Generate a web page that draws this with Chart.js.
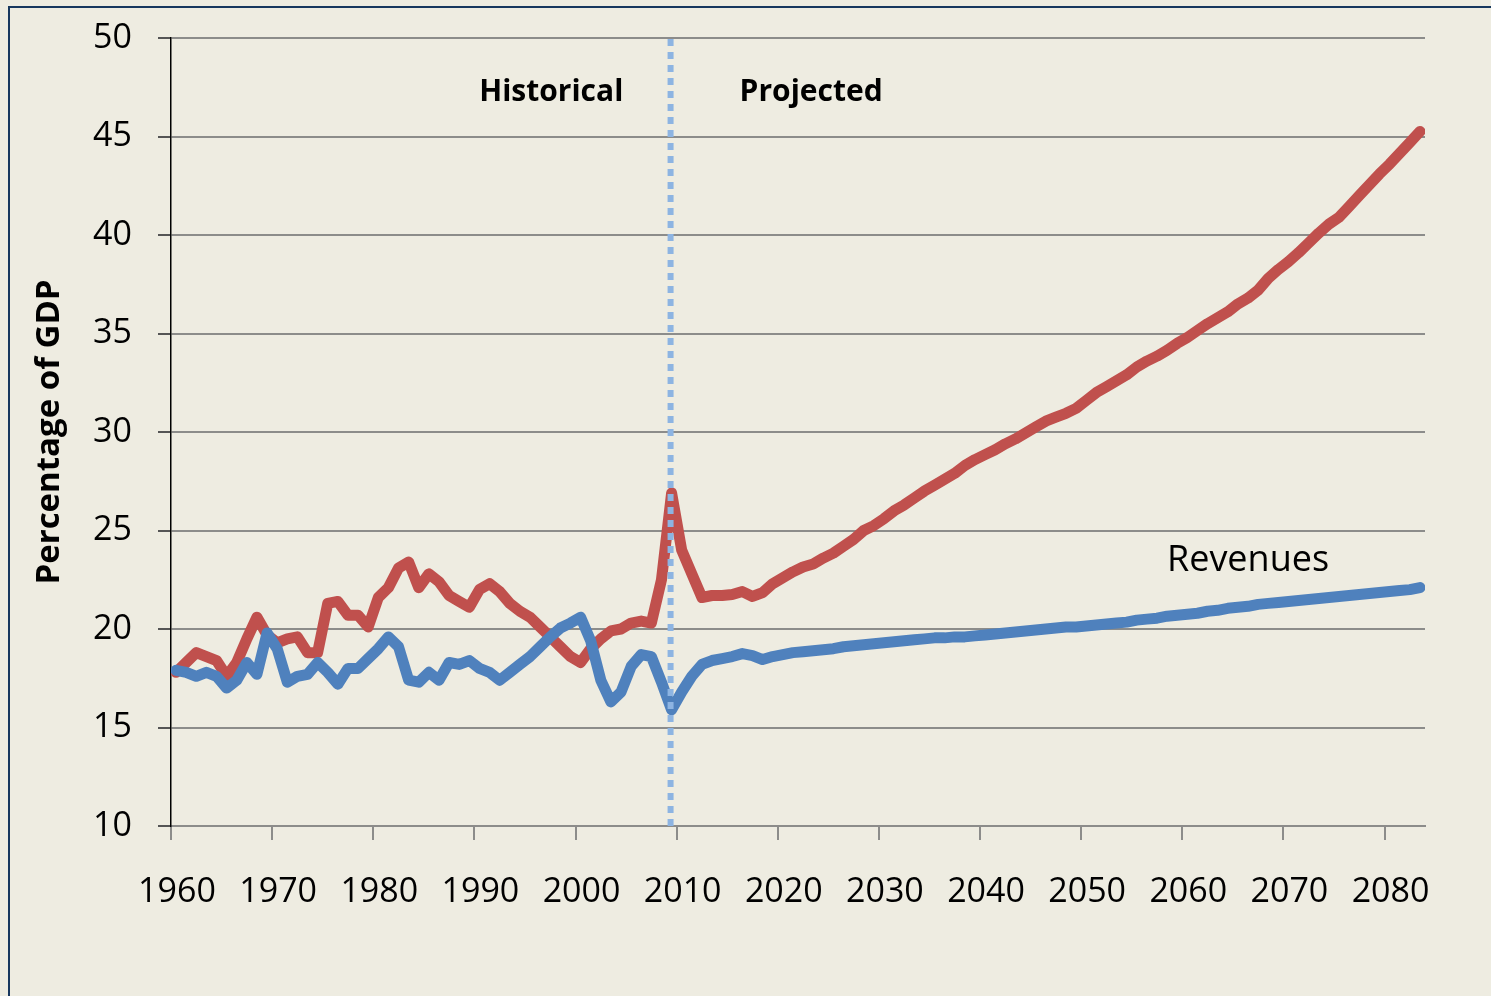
<!DOCTYPE html>
<html>
<head>
<meta charset="utf-8">
<script src="https://cdn.jsdelivr.net/npm/chart.js@4.4.0/dist/chart.umd.min.js"></script>
<style>
  html, body { margin: 0; padding: 0; background: #EEECE1; overflow: hidden; }
  #frame { position: absolute; left: 8px; top: 6px; width: 2000px; height: 2000px;
           border-top: 2px solid #17375E; border-left: 2px solid #17375E; }
  canvas { position: absolute; left: 0; top: 0; }
</style>
</head>
<body>
<div id="frame"></div>
<canvas id="outlook" width="1491" height="996"></canvas>
<script>
// fiscal years, one value per year starting here
var firstYear = 1960;
var yTicks = [10, 15, 20, 25, 30, 35, 40, 45, 50];
var xTicks = [1960, 1970, 1980, 1990, 2000, 2010, 2020, 2030, 2040, 2050, 2060, 2070, 2080];

// outlays, % of GDP (red)
var spending = [
  17.8, 18.3, 18.8, 18.6, 18.4, 17.6, 18.3, 19.5, 20.6, 19.7,
  19.3, 19.5, 19.6, 18.8, 18.8, 21.3, 21.4, 20.7, 20.7, 20.1,
  21.6, 22.1, 23.1, 23.4, 22.1, 22.8, 22.4, 21.7, 21.4, 21.1,
  22.0, 22.3, 21.9, 21.3, 20.9, 20.6, 20.1, 19.6, 19.1, 18.6,
  18.3, 19.0, 19.5, 19.9, 20.0, 20.3, 20.4, 20.3, 22.5, 26.9,
  24.0, 22.8, 21.6, 21.7, 21.7, 21.75, 21.9, 21.65, 21.85, 22.3,
  22.6, 22.9, 23.15, 23.3, 23.6, 23.85, 24.2, 24.55, 25.0, 25.25,
  25.6, 26.0, 26.3, 26.65, 27.0, 27.3, 27.6, 27.9, 28.3, 28.6,
  28.85, 29.1, 29.4, 29.65, 29.95, 30.25, 30.55, 30.75, 30.95, 31.2,
  31.6, 32.0, 32.3, 32.6, 32.9, 33.3, 33.6, 33.85, 34.15, 34.5,
  34.8, 35.15, 35.5, 35.8, 36.1, 36.5, 36.8, 37.2, 37.8, 38.25,
  38.65, 39.1, 39.6, 40.1, 40.55, 40.9, 41.45, 42.0, 42.55, 43.1,
  43.6, 44.15, 44.7, 45.25
];

// revenues, % of GDP (blue)
var revenues = [
  17.9, 17.8, 17.6, 17.8, 17.6, 17.0, 17.4, 18.3, 17.7, 19.8,
  19.0, 17.3, 17.6, 17.7, 18.3, 17.8, 17.2, 18.0, 18.0, 18.5,
  19.0, 19.6, 19.1, 17.4, 17.3, 17.8, 17.4, 18.3, 18.2, 18.4,
  18.0, 17.8, 17.4, 17.8, 18.2, 18.6, 19.1, 19.6, 20.05, 20.3,
  20.6, 19.4, 17.4, 16.3, 16.8, 18.1, 18.7, 18.6, 17.3, 15.9,
  16.8, 17.6, 18.2, 18.4, 18.5, 18.6, 18.75, 18.65, 18.45, 18.6,
  18.7, 18.8, 18.85, 18.9, 18.95, 19.0, 19.1, 19.15, 19.2, 19.25,
  19.3, 19.35, 19.4, 19.45, 19.5, 19.55, 19.55, 19.6, 19.6, 19.65,
  19.7, 19.75, 19.8, 19.85, 19.9, 19.95, 20.0, 20.05, 20.1, 20.1,
  20.15, 20.2, 20.25, 20.3, 20.35, 20.45, 20.5, 20.55, 20.65, 20.7,
  20.75, 20.8, 20.9, 20.95, 21.05, 21.1, 21.15, 21.25, 21.3, 21.35,
  21.4, 21.45, 21.5, 21.55, 21.6, 21.65, 21.7, 21.75, 21.8, 21.85,
  21.9, 21.95, 22.0, 22.1
];

var splitYear = 2009.4;   // historical / projected divider
var notes = [
  { text: 'Historical', x: 1997.6, y: 47.25, bold: true, size: 30 },
  { text: 'Projected', x: 2023.3, y: 47.25, bold: true, size: 30 },
  { text: 'Revenues', x: 2066.5, y: 23.45, bold: false, size: 36 }
];

function toPoints(values) {
  // Excel-style category axis: each year sits in the middle of its slot
  return values.map(function (v, i) { return { x: firstYear + i + 0.5, y: v }; });
}

var notesPlugin = {
  id: 'notes',
  afterDraw: function (chart) {
    var ctx = chart.ctx;
    var xs = chart.scales.x, ys = chart.scales.y;
    ctx.save();
    ctx.fillStyle = '#000';
    ctx.textAlign = 'center';
    ctx.textBaseline = 'middle';
    notes.forEach(function (n) {
      ctx.font = (n.bold ? 'bold ' : '') + n.size + 'px "Open Sans"';
      ctx.fillText(n.text, xs.getPixelForValue(n.x), ys.getPixelForValue(n.y));
    });
    ctx.restore();
  }
};

window.addEventListener('load', function () {
  var ctx = document.getElementById('outlook').getContext('2d');
  var chart = new Chart(ctx, {
    type: 'line',
    data: {
      datasets: [
        {
          label: 'divider',
          data: [{ x: splitYear, y: yTicks[0] }, { x: splitYear, y: yTicks[yTicks.length - 1] }],
          borderColor: '#8DB4E2',
          borderWidth: 6,
          borderDash: [7, 6],
          borderCapStyle: 'butt',
          pointRadius: 0,
          order: 0
        },
        {
          label: 'Revenues',
          data: toPoints(revenues),
          borderColor: '#4F81BD',
          borderWidth: 11,
          borderCapStyle: 'round',
          borderJoinStyle: 'round',
          pointRadius: 0,
          tension: 0,
          order: 1
        },
        {
          label: 'Spending',
          data: toPoints(spending),
          borderColor: '#C0504D',
          borderWidth: 11,
          borderCapStyle: 'round',
          borderJoinStyle: 'round',
          pointRadius: 0,
          tension: 0,
          order: 2
        }
      ]
    },
    options: {
      responsive: false,
      animation: false,
      devicePixelRatio: 1,
      layout: { padding: { left: 0, top: 38, right: 66, bottom: 0 } },
      plugins: { legend: { display: false }, tooltip: { enabled: false } },
      scales: {
        x: {
          type: 'linear',
          min: 1960,
          max: 2084,
          afterBuildTicks: function (axis) {
            axis.ticks = xTicks.map(function (v) { return { value: v }; });
          },
          afterFit: function (axis) { axis.height = 170; },
          grid: { drawOnChartArea: false, drawTicks: true, tickLength: 14, tickColor: '#8C8C8A', lineWidth: 2 },
          border: { color: '#8C8C8A', width: 2 },
          ticks: {
            autoSkip: false,
            maxRotation: 0,
            padding: 32,
            labelOffset: 6,
            color: '#000',
            font: { family: 'Open Sans', size: 34 },
            callback: function (v) { return String(v); }
          }
        },
        y: {
          min: 10,
          max: 50,
          afterBuildTicks: function (axis) {
            axis.ticks = yTicks.map(function (v) { return { value: v }; });
          },
          afterFit: function (axis) {
            axis.width = 171;
            axis.paddingTop = 0;
            axis.paddingBottom = 0;
          },
          grid: { color: '#8C8C8A', lineWidth: 2, tickLength: 13, tickColor: '#555' },
          border: { color: '#000', width: 1.5 },
          ticks: {
            padding: 26,
            color: '#000',
            font: { family: 'Open Sans', size: 34 }
          },
          title: {
            display: true,
            text: 'Percentage of GDP',
            color: '#000',
            padding: { top: 30, bottom: 0 },
            font: { family: 'Open Sans', size: 33, weight: 'bold' }
          }
        }
      }
    },
    plugins: [notesPlugin]
  });
});
</script>
</body>
</html>
